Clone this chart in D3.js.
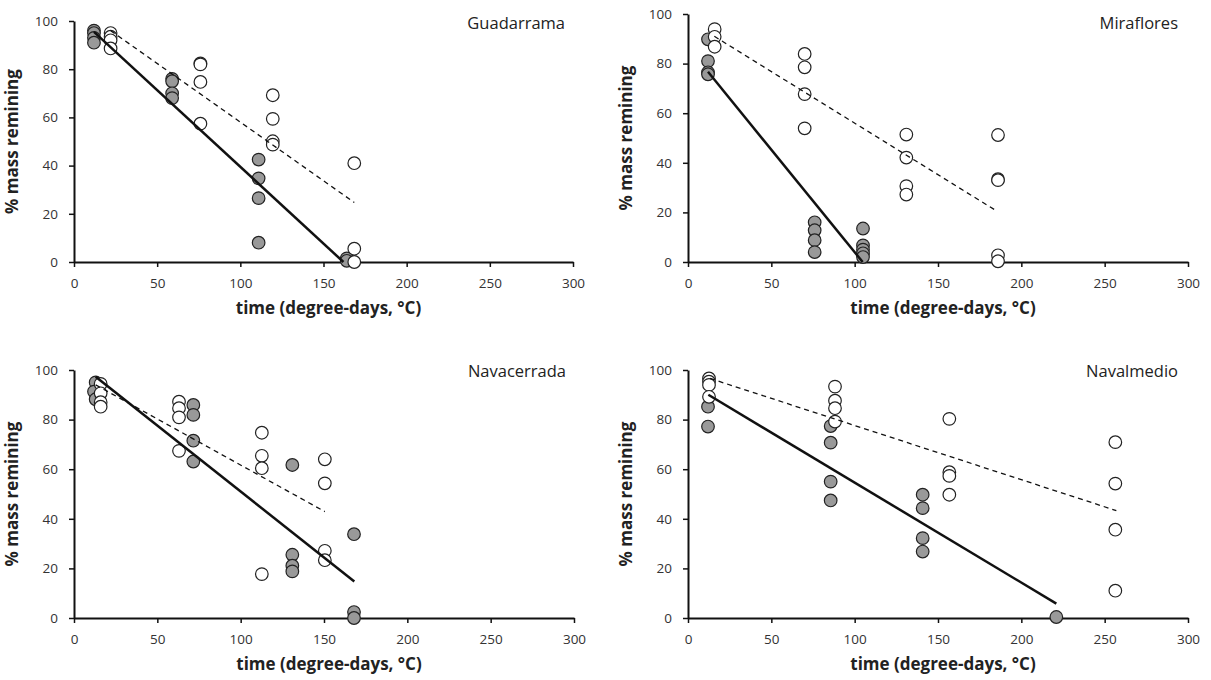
<!DOCTYPE html>
<html>
<head>
<meta charset="utf-8">
<script src="https://cdn.jsdelivr.net/npm/d3@7"></script>
<style>
body { margin: 0; background: #fff; }
text { font-family: "Open Sans", "Liberation Sans", sans-serif; }
</style>
</head>
<body>
<div id="root"></div>
<script>
// sites, one panel each
var sites = ["Guadarrama", "Miraflores", "Navacerrada", "Navalmedio"];
var xTicks = [0, 50, 100, 150, 200, 250, 300];
var yTicks = [0, 20, 40, 60, 80, 100];

// grey (filled) points [degree-days, % mass]
var guadFilled = [[12, 96], [12, 95], [12, 93], [12, 91], [59, 76], [59, 75], [59, 70], [59, 68], [111, 42.5], [111, 34.7], [111, 26.5], [111, 8], [164, 1.5], [164, 0.5]];
var mirFilled = [[12, 89.8], [12, 81], [12, 76.5], [12, 75.7], [76, 16], [76, 12.8], [76, 8.8], [76, 4], [105, 13.5], [105, 6.7], [105, 5], [105, 3.5], [105, 2]];
var navacFilled = [[13, 95], [12, 91.3], [13, 88.2], [71.6, 85.9], [71.6, 81.9], [71.6, 71.5], [71.6, 63.1], [131, 61.7], [131, 25.5], [131, 21.1], [131, 18.8], [168, 33.8], [168, 2.4], [168, 0]];
var navalFilled = [[12, 85.2], [12, 77.2], [85.6, 77.4], [85.6, 70.7], [85.6, 55], [85.6, 47.4], [140.8, 49.7], [140.8, 44.3], [140.8, 32.2], [140.8, 26.8], [221, 0.4]];

// open (white) points
var guadOpen = [[22, 95], [22, 93.5], [22, 92], [22, 88.6], [76, 82.4], [76, 82], [76, 74.7], [76, 57.4], [119.5, 69.2], [119.5, 59.4], [119.5, 50.1], [119.5, 48.7], [168.5, 41], [168.5, 5.5], [168.5, 0]];
var mirOpen = [[16, 93.9], [16, 90.8], [16, 86.8], [70, 83.9], [70, 78.5], [70, 67.7], [70, 53.9], [131, 51.4], [131, 42.1], [131, 30.6], [131, 27.2], [186, 51.2], [186, 33.4], [186, 33], [186, 2.7], [186, 0.3]];
var navacOpen = [[16, 94.4], [16, 90.6], [16, 87], [16, 85.2], [63, 87.2], [63, 84.6], [63, 80.9], [63, 67.4], [112.7, 74.7], [112.7, 65.4], [112.7, 60.4], [112.7, 17.7], [150.5, 64], [150.5, 54.3], [150.5, 27.1], [150.5, 23.3]];
var navalOpen = [[12.6, 96.6], [12.6, 95.3], [12.6, 94], [12.6, 89.2], [88.2, 93.3], [88.2, 87.6], [88.2, 84.6], [88.2, 79.2], [156.8, 80.3], [156.8, 58.8], [156.8, 57.3], [156.8, 49.7], [256.4, 70.9], [256.4, 54.2], [256.4, 35.6], [256.4, 11]];

// regression lines (start, end)
var guadSolid = [[12, 95.5], [162, 0]];
var guadDashed = [[22, 96], [168.5, 24.7]];
var mirSolid = [[12, 76.7], [104.8, 0]];
var mirDashed = [[15.8, 91], [184.4, 20.9]];
var navacSolid = [[13, 97.3], [168.2, 14.7]];
var navacDashed = [[13, 94], [150.5, 42.9]];
var navalSolid = [[12.2, 90], [221, 5.8]];
var navalDashed = [[13.2, 96.6], [257, 43.3]];

var filled = [guadFilled, mirFilled, navacFilled, navalFilled];
var open = [guadOpen, mirOpen, navacOpen, navalOpen];
var solid = [guadSolid, mirSolid, navacSolid, navalSolid];
var dashed = [guadDashed, mirDashed, navacDashed, navalDashed];

// plot boxes in page pixels
var boxes = [
  {left: 74, right: 573, top: 21, bottom: 262},
  {left: 688, right: 1188, top: 14, bottom: 262},
  {left: 74, right: 574, top: 370, bottom: 618},
  {left: 688, right: 1188, top: 370, bottom: 618}
];

var svg = d3.select("#root")
  .append("svg")
  .attr("width", 1211)
  .attr("height", 680);

var line = d3.line();

sites.forEach(function(name, i) {
  var b = boxes[i];
  var x = d3.scaleLinear().domain([0, 300]).range([b.left, b.right]);
  var y = d3.scaleLinear().domain([0, 100]).range([b.bottom, b.top]);
  var g = svg.append("g");

  var xAxis = g.append("g")
    .attr("transform", "translate(0," + b.bottom + ")")
    .call(d3.axisBottom(x).tickValues(xTicks).tickSize(5).tickPadding(11).tickSizeOuter(0));
  var yAxis = g.append("g")
    .attr("transform", "translate(" + b.left + ",0)")
    .call(d3.axisLeft(y).tickValues(yTicks).tickSize(5).tickPadding(11).tickSizeOuter(0));

  [xAxis, yAxis].forEach(function(a) {
    a.select(".domain").attr("stroke", "#111").attr("stroke-width", 2);
    a.selectAll(".tick line").attr("stroke", "#111").attr("stroke-width", 1.5);
    a.selectAll(".tick text").attr("font-size", "13.5px").attr("fill", "#333")
      .style("font-family", "'Open Sans', sans-serif");
  });

  // axis titles
  g.append("text")
    .attr("x", (b.left + b.right) / 2 + 5)
    .attr("y", b.bottom + 52)
    .attr("text-anchor", "middle")
    .attr("font-size", "17px")
    .attr("font-weight", "bold")
    .attr("fill", "#222")
    .text("time (degree-days, °C)");

  g.append("text")
    .attr("transform", "translate(" + (b.left - 56) + "," + ((b.top + b.bottom) / 2) + ") rotate(-90)")
    .attr("text-anchor", "middle")
    .attr("font-size", "17px")
    .attr("font-weight", "bold")
    .attr("fill", "#222")
    .text("% mass remining");

  // site name
  g.append("text")
    .attr("x", i % 2 == 0 ? b.right - 8 : b.right - 10)
    .attr("y", i < 2 ? 29 : 377)
    .attr("text-anchor", "end")
    .attr("font-size", "16.5px")
    .attr("fill", "#222")
    .text(name);

  // grey points first, open on top, lines last
  g.append("g").selectAll("circle")
    .data(filled[i])
    .enter()
    .append("circle")
    .attr("cx", function(d) { return x(d[0]); })
    .attr("cy", function(d) { return y(d[1]); })
    .attr("r", 6.3)
    .attr("fill", "#999")
    .attr("stroke", "#222")
    .attr("stroke-width", 1.2);

  g.append("g").selectAll("circle")
    .data(open[i])
    .enter()
    .append("circle")
    .attr("cx", function(d) { return x(d[0]); })
    .attr("cy", function(d) { return y(d[1]); })
    .attr("r", 6.3)
    .attr("fill", "#fff")
    .attr("stroke", "#222")
    .attr("stroke-width", 1.2);

  line.x(function(d) { return x(d[0]); }).y(function(d) { return y(d[1]); });

  g.append("path")
    .datum(solid[i])
    .attr("fill", "none")
    .attr("stroke", "#111")
    .attr("stroke-width", 2.5)
    .attr("d", line);

  g.append("path")
    .datum(dashed[i])
    .attr("fill", "none")
    .attr("stroke", "#111")
    .attr("stroke-width", 1.3)
    .attr("stroke-dasharray", "5,4")
    .attr("d", line);
});
</script>
</body>
</html>
